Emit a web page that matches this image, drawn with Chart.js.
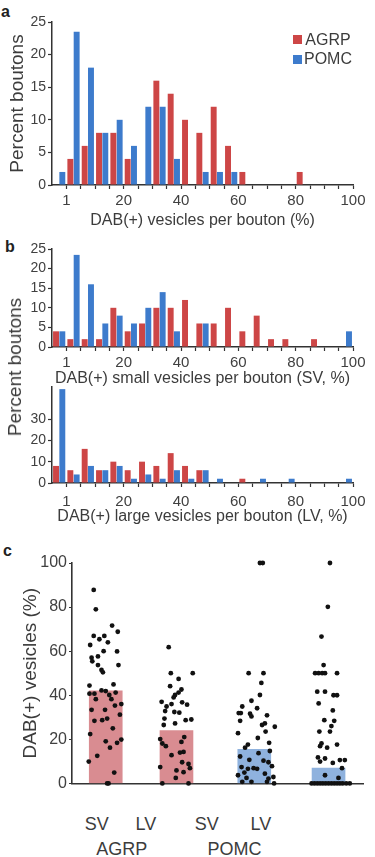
<!DOCTYPE html>
<html>
<head>
<meta charset="utf-8">
<script src="https://cdn.jsdelivr.net/npm/chart.js@4.4.1/dist/chart.umd.min.js"></script>
<style>
  body { margin: 0; background: #fff; font-family: "Liberation Sans", Arial, sans-serif; color: #3c3c3c; }
  #fig { position: relative; width: 375px; height: 857px; overflow: hidden; }
  .box { position: absolute; }
  .panel { position: absolute; font-weight: bold; font-size: 16px; line-height: 16px; color: #222; }
  .txt { position: absolute; white-space: nowrap; transform: translate(-50%, -50%); }
  .rot { position: absolute; white-space: nowrap; transform: translate(-50%, -50%) rotate(-90deg); }
  .key { position: absolute; width: 9px; height: 9px; }
</style>
</head>
<body>
<div id="fig">
  <div class="panel" style="left:1px;top:4px">a</div>
  <div class="panel" style="left:5px;top:239px">b</div>
  <div class="panel" style="left:3px;top:543px">c</div>

  <div class="box" style="left:0;top:0;width:375px;height:230px"><canvas id="chartA"></canvas></div>
  <div class="box" style="left:0;top:230px;width:375px;height:158px"><canvas id="chartSV"></canvas></div>
  <div class="box" style="left:0;top:370px;width:375px;height:156px"><canvas id="chartLV"></canvas></div>
  <div class="box" style="left:0;top:545px;width:375px;height:250px"><canvas id="chartC"></canvas></div>

  <div class="rot" style="left:15px;top:367px;font-size:19px">Percent boutons</div>
  <div id="legend"></div>
  <div id="groupLabels"></div>
</div>

<script>
// histogram bins (% DAB+ vesicles per bouton), first bin is the "0" bin
const binCenters = [-2.5, 2.5, 7.5, 12.5, 17.5, 22.5, 27.5, 32.5, 37.5, 42.5, 47.5,
                    52.5, 57.5, 62.5, 67.5, 72.5, 77.5, 82.5, 87.5, 92.5, 97.5];
const seriesNames = ["AGRP", "POMC"];
const xMajorTicks = [0, 20, 40, 60, 80, 100];
const xMajorLabels = ["1", "20", "40", "60", "80", "100"];

// panel a: all vesicles
const allAgrp = [0, 4, 6, 8, 8, 4, 0, 16, 14, 10, 8, 12, 6, 2, 0, 0, 0, 2, 0, 0, 0];
const allPomc = [2, 23.5, 18, 8, 10, 6, 12, 12, 4, 0, 2, 2, 2, 0, 0, 0, 0, 0, 0, 0, 0];
// panel b: small vesicles
const svAgrp = [4, 2, 2, 2, 10, 4, 6, 10, 10, 12, 6, 6, 10, 4, 8, 2, 2, 0, 2, 0, 0];
const svPomc = [4, 23.5, 16, 6, 8, 6, 10, 14, 4, 0, 6, 0, 0, 0, 0, 0, 0, 0, 0, 0, 4];
// panel b: large vesicles
const lvAgrp = [8, 6, 16, 6, 10, 6, 10, 8, 14, 8, 6, 0, 0, 2, 0, 0, 0, 0, 0, 0, 0];
const lvPomc = [44, 4, 8, 6, 8, 2, 4, 2, 6, 2, 6, 2, 0, 0, 2, 0, 2, 0, 0, 0, 2];

// panel c: mean % DAB+ vesicles and individual boutons
const groupNames = ["SV", "LV", "SV", "LV"];
const cellNames = ["AGRP", "POMC"];
const meanVesicles = [42, 24, 15.5, 7];

const agrpSvVals = [87.8, 79, 71.6, 68.8, 66.9, 65.4, 66.9, 64, 62.8, 60, 59.9, 57, 57.6, 55.4, 53.7, 53.7,
  51.5, 50.4, 44.4, 44.9, 40.7, 40.7, 42.2, 41.9, 40.1, 41.2, 38.2, 38.2, 36, 35.3, 33.4, 33.4, 31.2,
  28.7, 29.4, 28.4, 25, 22.4, 19.1, 16.2, 18.4, 19.9, 12.5, 9.9, 4.9, 0, 0];
const agrpSvJit = [-0.17, -0.14, 0.09, 0.17, -0.17, -0.09, -0.02, 0.03, -0.22, -0.03, 0.16, -0.2, -0.11, -0.19, -0.11, 0.18,
  -0.06, -0.04, -0.23, 0.11, -0.23, -0.16, -0.06, 0, 0.05, 0.14, -0.14, 0.08, 0.22, 0.13, -0.2, -0.01, 0.2,
  -0.05, 0.02, -0.16, 0.1, -0.22, 0, 0.06, 0.16, 0.22, -0.12, -0.24, 0.12, 0.02, 0.04];

const agrpLvVals = [61.8, 50, 50, 47.4, 44.1, 42.6, 41.2, 40.1, 39, 37, 36, 36.8, 35.7, 34.9, 32.4, 32.1, 32.8,
  29.4, 28.7, 29, 27.2, 26.5, 20.1, 18.1, 16.9, 21, 18.8, 12.8, 14.3, 14, 9.6, 8.8, 6.9, 5.9, 5.1, 2.5, 0, 0, 7.4];
const agrpLvJit = [-0.11, -0.08, 0.23, 0.03, -0.09, 0.07, 0.03, -0.02, -0.04, -0.21, -0.07, 0.08, 0.15, -0.14, -0.03, 0.04, -0.16,
  -0.17, 0.13, 0.21, -0.02, -0.18, -0.23, -0.2, -0.15, 0.11, 0.07, -0.07, 0.1, 0.05, 0.08, 0.17, 0.19, 0, 0.1, -0.01, -0.2, 0.17, -0.23];

const pomcSvVals = [100, 100, 50, 50, 45.6, 40.1, 37.5, 34.9, 34.1, 31.9, 31.9, 31.6, 30.4, 30.9, 28.4, 27.2, 26.5,
  25.7, 23.5, 22.8, 20.6, 18.4, 17.6, 16.2, 14.7, 12.2, 13.7, 10.7, 10.3, 9.6, 7.4, 6.6, 6.9, 6.6, 7.8,
  4.9, 4.4, 3.7, 2.5, 2.2, 2.9, 0.7, 0.7, 0.7, 0];
const pomcSvJit = [0.08, 0.12, -0.08, 0.13, 0.1, 0.08, -0.04, -0.17, 0.04, -0.22, -0.19, -0.06, -0.04, 0.18, -0.2, 0.15, 0.11,
  0.29, 0.16, -0.23, 0.05, 0.21, -0.09, -0.13, 0.22, -0.2, 0.06, -0.07, 0.13, 0.2, -0.18, -0.09, -0.01, 0.04, 0.25,
  -0.14, 0.15, -0.23, -0.11, 0.2, 0.27, -0.17, -0.04, 0.18, 0.28];

const pomcLvVals = [100, 80.1, 66.6, 53.7, 50, 50, 50, 50, 50, 41.6, 41.6, 40, 40, 36.3, 33.1, 28.7, 28.4, 26,
  23.5, 23.5, 18.1, 16.9, 17.6, 16.2, 11.8, 11.3, 9.9, 9.3, 10.6, 10.6, 6.9, 3.7, 2.5,
  0, 0, 0, 0, 0, 0, 0, 0, 0, 0, 0, 0, 0, 0];
const pomcLvJit = [0.02, -0.01, -0.1, -0.07, -0.19, -0.14, -0.09, -0.05, 0.12, -0.16, -0.05, 0.07, 0.12, -0.14, 0.06, -0.06, 0.08, 0.04,
  0.02, -0.13, -0.1, -0.12, 0.12, -0.02, -0.15, -0.05, -0.12, 0.06, 0.16, 0.23, 0.19, -0.05, 0.14,
  -0.24, -0.2, -0.16, -0.12, -0.08, -0.04, 0, 0.04, 0.08, 0.12, 0.16, 0.2, 0.25, 0.3];

const RED = "#cd4646";
const BLUE = "#3d7bcc";
const PINK = "#d98c91";
const LIGHTBLUE = "#8fb2de";
const AXIS = "#333";

Chart.defaults.font.family = '"Liberation Sans", Arial, sans-serif';
Chart.defaults.color = "#404040";
Chart.defaults.animation = false;

function histChart(id, agrp, pomc, cfg) {
  return new Chart(document.getElementById(id), {
    type: "bar",
    data: {
      datasets: [
        { label: seriesNames[0], data: binCenters.map((x, i) => ({ x: x, y: agrp[i] })), backgroundColor: RED },
        { label: seriesNames[1], data: binCenters.map((x, i) => ({ x: x, y: pomc[i] })), backgroundColor: BLUE },
      ],
    },
    options: {
      responsive: true,
      maintainAspectRatio: false,
      categoryPercentage: 0.88,
      barPercentage: 0.94,
      layout: { padding: { left: 0, right: 22, top: cfg.top, bottom: 0 } },
      scales: {
        x: {
          type: "linear",
          min: -5,
          max: 100,
          offset: false,
          afterBuildTicks: (ax) => { ax.ticks = ax.ticks.filter((t) => t.value >= 0); },
          afterFit: (ax) => { ax.height = cfg.xHeight; },
          ticks: {
            stepSize: 5,
            autoSkip: false,
            maxRotation: 0,
            padding: cfg.xPad,
            font: { size: 15 },
            callback: (v) => {
              const k = xMajorTicks.indexOf(v);
              return k < 0 ? "" : xMajorLabels[k];
            },
          },
          grid: { display: true, drawOnChartArea: false, offset: false, tickLength: 4, tickColor: AXIS, tickWidth: 1.2 },
          border: { color: AXIS, width: 1.5 },
          title: { display: true, text: cfg.xTitle, font: { size: 16 }, padding: 0, color: "#3c3c3c" },
        },
        y: {
          min: 0,
          max: cfg.yMax,
          afterBuildTicks: (ax) => { ax.ticks = ax.ticks.filter((t) => t.value % cfg.yStep === 0); },
          afterFit: (ax) => { ax.width = 52; },
          ticks: { stepSize: cfg.yStep, autoSkip: false, padding: 2, font: { size: 14 } },
          grid: { display: true, drawOnChartArea: false, tickLength: 4, tickColor: AXIS, tickWidth: 1.2 },
          border: { color: AXIS, width: 1.5 },
          title: cfg.yTitle
            ? { display: true, text: cfg.yTitle, font: { size: 19 }, padding: { top: 6, bottom: 0 }, color: "#3c3c3c" }
            : { display: false },
        },
      },
      plugins: { legend: { display: false }, tooltip: { enabled: false } },
    },
  });
}

histChart("chartA", allAgrp, allPomc, {
  top: 22, xHeight: 45, xPad: 3, yMax: 25, yStep: 5,
  xTitle: "DAB(+) vesicles per bouton (%)", yTitle: "Percent boutons",
});
histChart("chartSV", svAgrp, svPomc, {
  top: 19, xHeight: 41, xPad: 3, yMax: 25, yStep: 5,
  xTitle: "DAB(+) small vesicles per bouton (SV, %)",
});
histChart("chartLV", lvAgrp, lvPomc, {
  top: 17, xHeight: 43, xPad: 6, yMax: 45, yStep: 10,
  xTitle: "DAB(+) large vesicles per bouton (LV, %)",
});

// legend for panel a
const legend = document.getElementById("legend");
[RED, BLUE].forEach((c, i) => {
  const sq = document.createElement("div");
  sq.className = "key";
  sq.style.cssText = `left:293px;top:${35 + i * 19.5}px;background:${c}`;
  legend.appendChild(sq);
  const t = document.createElement("div");
  t.className = "txt";
  t.style.cssText = `left:328px;top:${39.5 + i * 19.5}px;font-size:16px`;
  t.textContent = seriesNames[i];
  legend.appendChild(t);
});

// panel c
const groupPos = [1, 2, 3.1, 4.15];
const dotGroups = [
  [agrpSvVals, agrpSvJit],
  [agrpLvVals, agrpLvJit],
  [pomcSvVals, pomcSvJit],
  [pomcLvVals, pomcLvJit],
];

new Chart(document.getElementById("chartC"), {
  type: "bar",
  data: {
    datasets: [
      {
        type: "bar",
        data: groupPos.map((x, i) => ({ x: x, y: meanVesicles[i] })),
        backgroundColor: [PINK, PINK, LIGHTBLUE, LIGHTBLUE],
        barThickness: 33,
        order: 2,
      },
      ...dotGroups.map(([vals, jit], g) => ({
        type: "scatter",
        data: vals.map((v, i) => ({ x: groupPos[g] + jit[i], y: v })),
        pointRadius: 2.4,
        pointBackgroundColor: "#111",
        pointBorderWidth: 0,
        clip: false,
        order: 1,
      })),
    ],
  },
  options: {
    responsive: true,
    maintainAspectRatio: false,
    layout: { padding: { left: 0, right: 12, top: 18, bottom: 0 } },
    scales: {
      x: {
        type: "linear",
        min: 0.523,
        max: 4.637,
        offset: false,
        afterFit: (ax) => { ax.height = 5; },
        ticks: { display: false },
        grid: { display: false },
        border: { color: AXIS, width: 1.6 },
      },
      y: {
        min: 0,
        max: 100,
        afterFit: (ax) => { ax.width = 72; },
        ticks: { stepSize: 20, autoSkip: false, padding: 2, font: { size: 16 } },
        grid: { display: true, drawOnChartArea: false, tickLength: 3, tickColor: AXIS, tickWidth: 1.2 },
        border: { color: AXIS, width: 1.6 },
        title: { display: true, text: "DAB(+) vesicles (%)", font: { size: 19 }, padding: { top: 19, bottom: 0 }, color: "#3c3c3c" },
      },
    },
    plugins: { legend: { display: false }, tooltip: { enabled: false } },
  },
});

// group labels under panel c
const gl = document.getElementById("groupLabels");
const labelX = [96.7, 145.8, 206.7, 260.8];
groupNames.forEach((n, i) => {
  const d = document.createElement("div");
  d.className = "txt";
  d.style.cssText = `left:${labelX[i]}px;top:824px;font-size:18px`;
  d.textContent = n;
  gl.appendChild(d);
});
const cellX = [121.7, 234.5];
cellNames.forEach((n, i) => {
  const d = document.createElement("div");
  d.className = "txt";
  d.style.cssText = `left:${cellX[i]}px;top:849px;font-size:18px`;
  d.textContent = n;
  gl.appendChild(d);
});
</script>
</body>
</html>
